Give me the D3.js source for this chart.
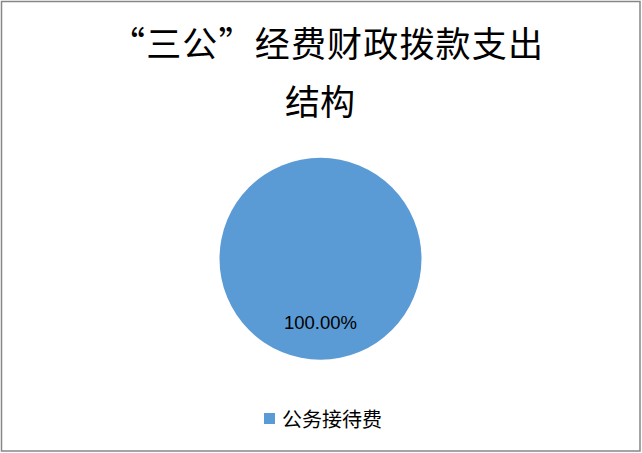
<!DOCTYPE html>
<html>
<head>
<meta charset="utf-8">
<script src="https://cdn.jsdelivr.net/npm/d3@7"></script>
<style>
  html, body { margin: 0; padding: 0; background: #fff; }
  svg { display: block; }
</style>
</head>
<body>
<div id="chart"></div>
<script>
const titleLines = ['“三公”经费财政拨款支出', '结构'];
const categories = ['公务接待费'];
const values = [100];
const colors = ['#5b9bd5'];

const width = 642;
const height = 453;
const cx = 320.5;
const cy = 258.7;
const radius = 101;

const svg = d3.select('#chart')
    .append('svg')
    .attr('width', width)
    .attr('height', height);

// outer frame
svg.append('rect')
    .attr('x', 1.5)
    .attr('y', 1.5)
    .attr('width', width - 3.5)
    .attr('height', height - 3.5)
    .attr('fill', '#fff')
    .attr('stroke', '#868686')
    .attr('stroke-width', 1.5);

// title (quotes are full width in the original, so stretch line 1)
svg.append('g')
    .selectAll('text')
    .data(titleLines)
    .enter()
    .append('text')
    .attr('x', (d, i) => i === 0 ? 326.5 : 320)
    .attr('y', (d, i) => 57 + i * 58)
    .attr('text-anchor', 'middle')
    .attr('font-family', '"Noto Sans CJK SC", sans-serif')
    .attr('font-size', 35)
    .attr('fill', '#000')
    .each(function (d, i) {
        if (i === 0) {
            d3.select(this).attr('textLength', 433).attr('lengthAdjust', 'spacing');
        }
    })
    .text(d => d);

const data = categories.map((c, i) => ({ label: c, value: values[i], color: colors[i] }));
const total = d3.sum(values);

const pie = d3.pie().value(d => d.value).sort(null);
const arc = d3.arc().innerRadius(0).outerRadius(radius);
const labelArc = d3.arc().innerRadius(radius * 0.63).outerRadius(radius * 0.63);

const g = svg.append('g')
    .attr('transform', `translate(${cx},${cy})`);

g.selectAll('path')
    .data(pie(data))
    .enter()
    .append('path')
    .attr('d', arc)
    .attr('fill', d => d.data.color)
    .attr('stroke', 'none');

g.selectAll('text')
    .data(pie(data))
    .enter()
    .append('text')
    .attr('transform', d => `translate(${labelArc.centroid(d)})`)
    .attr('text-anchor', 'middle')
    .attr('dy', '0.35em')
    .attr('font-family', '"Liberation Sans", Arial, sans-serif')
    .attr('font-size', 18.5)
    .attr('fill', '#000')
    .text(d => (d.data.value / total * 100).toFixed(2) + '%');

// legend
const legend = svg.append('g')
    .attr('transform', 'translate(264,413)');

legend.selectAll('rect')
    .data(data)
    .enter()
    .append('rect')
    .attr('x', 0)
    .attr('y', 0)
    .attr('width', 11)
    .attr('height', 11)
    .attr('fill', d => d.color);

legend.selectAll('text')
    .data(data)
    .enter()
    .append('text')
    .attr('x', 18)
    .attr('y', 12)
    .attr('dy', '0.1em')
    .attr('font-family', '"Noto Sans CJK SC", sans-serif')
    .attr('font-size', 20)
    .attr('fill', '#000')
    .text(d => d.label);
</script>
</body>
</html>
